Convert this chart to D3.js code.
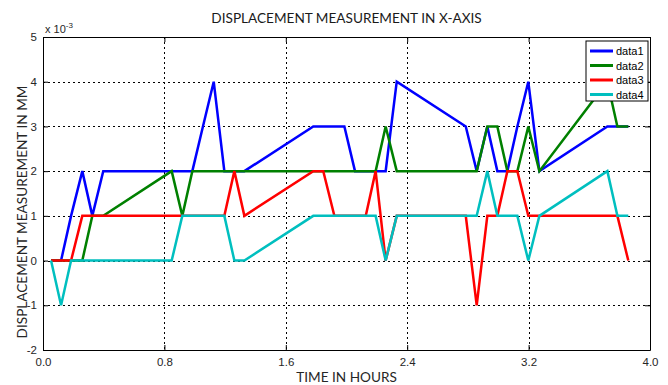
<!DOCTYPE html>
<html>
<head>
<meta charset="utf-8">
<script src="https://cdn.jsdelivr.net/npm/d3@7/dist/d3.min.js"></script>
<style>
  html, body { margin: 0; padding: 0; background: #fff; }
  svg { display: block; }
</style>
</head>
<body>
<svg id="chart" width="668" height="385"></svg>
<script>
// Sample times (hours)
const timeHours = [
  0.053, 0.119, 0.185, 0.259, 0.325, 0.397,
  0.848, 0.918, 0.984, 1.054, 1.125, 1.195, 1.261, 1.327,
  1.781, 1.847, 1.920, 1.986, 2.056, 2.127, 2.192, 2.258, 2.331,
  2.786, 2.858, 2.928, 2.994, 3.060, 3.126, 3.198, 3.271,
  3.719, 3.785, 3.857
];

// Displacement readings, in units of 10^-3 mm
const data1 = [0, 0, 1, 2, 1, 2,  2, 2, 2, 3, 4, 2, 2, 2,  3, 3, 3, 3, 2, 2, 2, 2, 4,  3, 2, 3, 2, 2, 3, 4, 2,  3, 3, 3];
const data2 = [0, 0, 0, 0, 1, 1,  2, 1, 2, 2, 2, 2, 2, 2,  2, 2, 2, 2, 2, 2, 2, 3, 2,  2, 2, 3, 3, 2, 2, 3, 2,  4, 3, 3];
const data3 = [0, 0, 0, 1, 1, 1,  1, 1, 1, 1, 1, 1, 2, 1,  2, 2, 1, 1, 1, 1, 2, 0, 1,  1, -1, 1, 1, 2, 2, 1, 1,  1, 1, 0];
const data4 = [0, -1, 0, 0, 0, 0,  0, 1, 1, 1, 1, 1, 0, 0,  1, 1, 1, 1, 1, 1, 1, 0, 1,  1, 1, 2, 1, 1, 1, 0, 1,  2, 1, 1];

const seriesNames = ["data1", "data2", "data3", "data4"];
const seriesColors = ["#0000ff", "#008000", "#ff0000", "#00bfbf"];
const seriesValues = [data1, data2, data3, data4];

const xTicks = [0, 0.8, 1.6, 2.4, 3.2, 4.0];
const yTicks = [-2, -1, 0, 1, 2, 3, 4, 5];

const titleText = "DISPLACEMENT MEASUREMENT IN X-AXIS";
const xLabelText = "TIME IN HOURS";
const yLabelText = "DISPLACEMENT MEASUREMENT IN MM";

const plot = { left: 43, right: 650, top: 37, bottom: 350 };
const svg = d3.select("#chart");

const x = d3.scaleLinear().domain([0, 4]).range([plot.left, plot.right]);
const y = d3.scaleLinear().domain([-2, 5]).range([plot.bottom, plot.top]);

const textColor = "#262626";
const tickFont = "'Liberation Sans Narrow', 'Liberation Sans', Arial, sans-serif";
const labelFont = "Lato, 'Open Sans', sans-serif";

// Dotted grid
const grid = svg.append("g").attr("stroke", "#000").attr("stroke-width", 1)
  .attr("stroke-dasharray", "2,3").attr("shape-rendering", "crispEdges");
grid.selectAll("line.gx").data(xTicks.slice(1, -1)).join("line")
  .attr("x1", d => Math.round(x(d)) + 0.5).attr("x2", d => Math.round(x(d)) + 0.5)
  .attr("y1", plot.top).attr("y2", plot.bottom);
grid.selectAll("line.gy").data(yTicks.slice(1, -1)).join("line")
  .attr("y1", d => Math.round(y(d)) + 0.5).attr("y2", d => Math.round(y(d)) + 0.5)
  .attr("x1", plot.left).attr("x2", plot.right);

// Series lines
const line = d3.line().x((d, i) => x(timeHours[i])).y(d => y(d));
svg.append("g").selectAll("path").data(seriesValues).join("path")
  .attr("d", d => line(d))
  .attr("fill", "none")
  .attr("stroke", (d, i) => seriesColors[i])
  .attr("stroke-width", 2.5)
  .attr("stroke-linejoin", "miter");

// Axes with inward ticks
const axisBottom = d3.axisBottom(x).tickValues(xTicks).tickFormat(d3.format(".1f"))
  .tickSizeInner(-5).tickSizeOuter(0).tickPadding(8);
const axisTop = d3.axisTop(x).tickValues(xTicks).tickFormat("")
  .tickSizeInner(-5).tickSizeOuter(0);
const axisLeft = d3.axisLeft(y).tickValues(yTicks).tickFormat(d => String(d))
  .tickSizeInner(-5).tickSizeOuter(0).tickPadding(6);
const axisRight = d3.axisRight(y).tickValues(yTicks).tickFormat("")
  .tickSizeInner(-5).tickSizeOuter(0);

function styleAxis(g) {
  g.selectAll("path.domain").attr("stroke", "#000").attr("stroke-width", 1);
  g.selectAll(".tick line").attr("stroke", "#000");
  g.selectAll(".tick text").attr("fill", textColor)
    .style("font-family", tickFont).style("font-size", "11.5px");
}
svg.append("g").attr("transform", `translate(0,${plot.bottom})`).call(axisBottom).call(styleAxis);
svg.append("g").attr("transform", `translate(0,${plot.top})`).call(axisTop).call(styleAxis);
svg.append("g").attr("transform", `translate(${plot.left},0)`).call(axisLeft).call(styleAxis);
svg.append("g").attr("transform", `translate(${plot.right},0)`).call(axisRight).call(styleAxis);

// Exponent marker above the y axis
const expText = svg.append("text").attr("x", plot.left + 2).attr("y", plot.top - 4)
  .attr("fill", textColor).style("font-family", tickFont).style("font-size", "11px");
expText.append("tspan").text("x 10");
expText.append("tspan").attr("dy", -5).style("font-size", "8px").text("-3");

// Title and axis labels
svg.append("text").attr("x", (plot.left + plot.right) / 2).attr("y", 23)
  .attr("text-anchor", "middle").attr("fill", "#1a1a1a")
  .style("font-family", labelFont).style("font-size", "13.6px").text(titleText);
svg.append("text").attr("x", (plot.left + plot.right) / 2).attr("y", 382)
  .attr("text-anchor", "middle").attr("fill", textColor)
  .style("font-family", labelFont).style("font-size", "13.6px").text(xLabelText);
svg.append("text").attr("transform", "translate(27,212) rotate(-90)")
  .attr("text-anchor", "middle").attr("fill", textColor)
  .style("font-family", labelFont).style("font-size", "13.6px").text(yLabelText);

// Legend
const legend = svg.append("g").attr("transform", "translate(586,41)");
legend.append("rect").attr("width", 62).attr("height", 60)
  .attr("fill", "#fff").attr("stroke", "#000").attr("stroke-width", 1);
const rows = legend.selectAll("g.row").data(seriesNames).join("g")
  .attr("transform", (d, i) => `translate(0,${10 + i * 14.5})`);
rows.append("line").attr("x1", 4).attr("x2", 27).attr("y1", 0).attr("y2", 0)
  .attr("stroke", (d, i) => seriesColors[i]).attr("stroke-width", 3);
rows.append("text").attr("x", 30).attr("y", 4).text(d => d)
  .attr("fill", "#000").style("font-family", tickFont).style("font-size", "11px");
</script>
</body>
</html>
